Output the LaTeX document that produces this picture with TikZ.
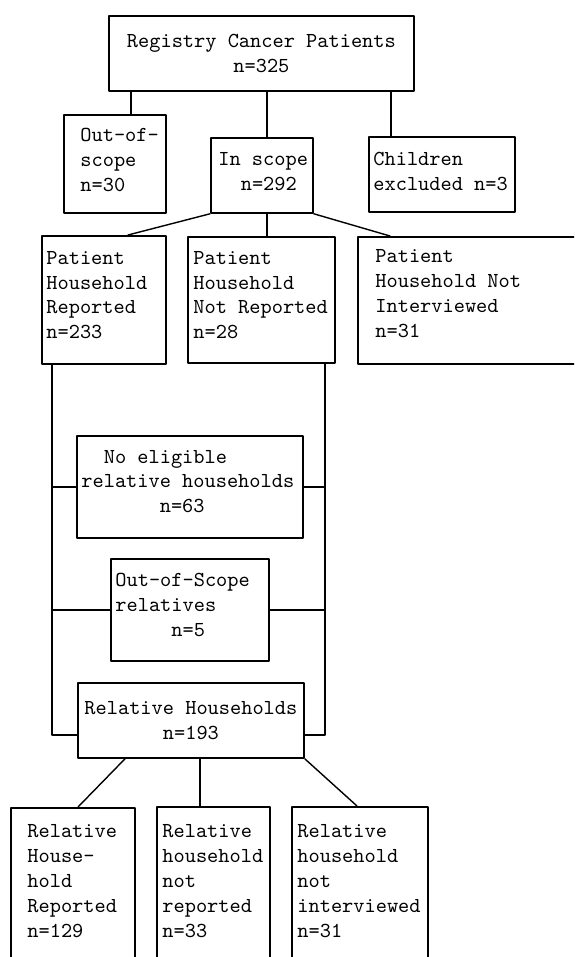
\documentclass[tikz,border=0pt]{standalone}
\begin{document}
\begin{tikzpicture}[x=0.5pt,y=-0.5pt,line join=round,line cap=round,font=\ttfamily\fontsize{10.67}{12.4}\selectfont,
	box/.style={draw,line width=0.9pt,anchor=north west,inner sep=0pt,align=center},
	txt/.style={align=left,inner sep=0pt,anchor=west},
	link/.style={line width=0.7pt}]
		\clip (0,0) rectangle (574,957);
		\node[box,minimum width=152.5pt,minimum height=37.5pt] (reg) at (108,15) {Registry Cancer Patients\\n=325};
		\node[box,minimum width=51pt,minimum height=49pt] (oos) at (63,114) {};
		\node[box,minimum width=51pt,minimum height=37.5pt] (ins) at (210,137) {};
		\node[box,minimum width=73pt,minimum height=37.5pt] (kids) at (368,136) {};
		\node[box,minimum width=62pt,minimum height=64pt] (phr) at (41,235) {};
		\node[box,minimum width=73.5pt,minimum height=63pt] (phnr) at (187,236) {};
		\node[box,minimum width=120pt,minimum height=63.5pt] (phni) at (357,236) {};
		\node[box,minimum width=113pt,minimum height=51pt] (noel) at (76,435) {};
		\node[box,minimum width=79pt,minimum height=51pt] (osr) at (110,558) {};
		\node[box,minimum width=113pt,minimum height=37.5pt] (rh) at (77,682) {Relative Households\\n=193};
		\node[box,minimum width=62pt,minimum height=85pt] (rhr) at (10,807) {};
		\node[box,minimum width=56.5pt,minimum height=85pt] (rhnr) at (156,806) {};
		\node[box,minimum width=68pt,minimum height=85pt] (rhni) at (291,806) {};
		\node[txt] (oos-t) at (80,160) {Out-of-\\scope\\n=30};
		\node[txt] (ins-t) at (218,171.5) {In scope\\\phantom{xx}n=292};
		\node[txt] (kids-t) at (373,171.5) {Children\\excluded n=3};
		\node[txt] (phr-t) at (46,295) {Patient\\Household\\Reported\\n=233};
		\node[txt] (phnr-t) at (193,295) {Patient\\Household\\Not Reported\\n=28};
		\node[txt] (phni-t) at (375,293.5) {Patient\\Household Not\\Interviewed\\n=31};
		\node[txt] (noel-t) at (81,481.5) {\phantom{xx}No eligible\\relative households\\\phantom{xxxxxxx}n=63};
		\node[txt] (osr-t) at (115,605) {Out-of-Scope\\relatives\\\phantom{xxxxx}n=5};
		\node[txt] (rhr-t) at (27,881) {Relative\\House-\\hold\\Reported\\n=129};
		\node[txt] (rhnr-t) at (162,881) {Relative\\household\\not\\reported\\n=33};
		\node[txt] (rhni-t) at (297,881) {Relative\\household\\not\\interviewed\\n=31};
		\draw[link] ([xshift=8pt]oos.north) -- ([xshift=8pt]oos.north |- reg.south);
		\draw[link] ([xshift=2.5pt]ins.north) -- ([xshift=2.5pt]ins.north |- reg.south);
		\draw[link] ([xshift=11.5pt]kids.north west) -- ([xshift=11.5pt]kids.north west |- reg.south);
		\draw[link] (ins.south west) -- ([xshift=43.5pt]phr.north west);
		\draw[link] ([xshift=2.5pt]ins.south) -- ([xshift=2.5pt]ins.south |- phnr.north);
		\draw[link] (ins.south east) -- ([xshift=16.5pt]phni.north west);
		\draw[link] ([xshift=5.5pt]phr.south west) coordinate (railL) |- ([yshift=12pt]rh.south west);
		\draw[link] ([xshift=-5.5pt]phnr.south east) coordinate (railR) |- ([yshift=12pt]rh.south east);
		\draw[link] (noel.west) -- (noel.west -| railL) (noel.east) -- (noel.east -| railR);
		\draw[link] (osr.west) -- (osr.west -| railL) (osr.east) -- (osr.east -| railR);
		\draw[link] ([xshift=24pt]rh.south west) -- ([xshift=34pt]rhr.north west);
		\draw[link] ([xshift=61.5pt]rh.south west) -- ([xshift=61.5pt]rh.south west |- rhnr.north);
		\draw[link] (rh.south east) -- ([xshift=33pt]rhni.north west);
\end{tikzpicture}
\end{document}
